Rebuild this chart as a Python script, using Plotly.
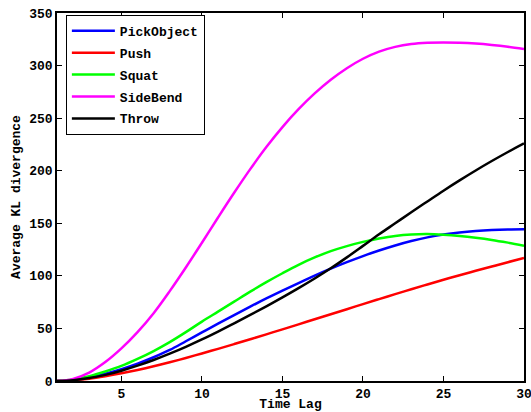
import plotly.graph_objects as go

time_lag = list(range(1, 31))

pick_object = [0, 1, 3.3, 7, 11.3, 16.5, 22.6, 29.5, 37.8, 46.2, 54.5, 62.7, 70.7, 78.5, 86,
               93.2, 100.2, 106.8, 113, 118.8, 124.1, 128.9, 133.1, 136.6, 139.3, 141.3, 142.7, 143.6, 144.1, 144.3]
push = [0, 0.8, 2.2, 4.5, 7.3, 10.5, 14, 17.8, 21.9, 26.2, 30.6, 35.1, 39.7, 44.4, 49.1,
        53.9, 58.7, 63.5, 68.3, 73.1, 77.9, 82.6, 87.2, 91.8, 96.3, 100.6, 104.8, 108.9, 113, 117]
squat = [0, 1.5, 4.5, 9, 14.3, 21, 28.5, 37, 46.5, 56.5, 66, 75.5, 85, 94, 102.5,
         110.5, 117.5, 123.5, 128.3, 132.3, 135.5, 138, 139.4, 139.8, 139.2, 138, 136.3, 134.2, 131.6, 128.7]
side_bend = [0, 2, 8, 18, 31, 46.5, 64.5, 85.5, 108, 131.5, 155.5, 179, 201.5, 222.5, 241.5,
             258.5, 273.5, 286.5, 297.5, 306.5, 313.3, 317.8, 320.5, 321.7, 322, 321.7, 320.9, 319.6, 317.9, 315.8]
throw = [0, 0.8, 2.8, 5.8, 9.8, 14.6, 20, 26, 32.5, 39.5, 47, 54.8, 62.8, 71, 79.5,
         88.3, 97.5, 107.2, 117.6, 128.5, 139.5, 150, 160.5, 170.8, 181, 190.8, 200.2, 209.2, 217.8, 226]

series_names = ["PickObject", "Push", "Squat", "SideBend", "Throw"]
series_values = [pick_object, push, squat, side_bend, throw]
series_colors = ["#0000ff", "#ff0000", "#00ff00", "#ff00ff", "#000000"]

x_ticks = [5, 10, 15, 20, 25, 30]
y_ticks = [0, 50, 100, 150, 200, 250, 300, 350]

FONT = "Liberation Mono, Courier New, monospace"
FS = 13

fig = go.Figure()
for i, (name, vals, col) in enumerate(zip(series_names, series_values, series_colors)):
    fig.add_trace(go.Scatter(
        x=time_lag, y=vals, mode="lines", name=name,
        line=dict(color=col, width=2.5, shape="spline", smoothing=1.0),
        legendgroup=f"g{i}",
    ))

axis_common = dict(
    showline=True, linecolor="black", linewidth=1.5, mirror="ticks",
    ticks="inside", ticklen=5, tickcolor="black", tickwidth=1,
    showgrid=False, zeroline=False, automargin=False, ticklabeloverflow="allow",
    tickfont=dict(family=FONT, size=FS, color="black", weight="bold"),
)

fig.update_layout(
    width=531, height=412,
    margin=dict(l=57, r=7, t=13, b=31),
    paper_bgcolor="white", plot_bgcolor="white",
    font=dict(family=FONT, color="black"),
    showlegend=True,
    legend=dict(
        x=0.019, y=0.995, xanchor="left", yanchor="top",
        bgcolor="white", bordercolor="black", borderwidth=1,
        font=dict(family=FONT, size=FS, color="black", weight="bold"),
        itemwidth=43, tracegroupgap=2, traceorder="grouped",
    ),
    xaxis=dict(range=[1, 30], tickvals=x_ticks,
               title=dict(text="Time Lag", standoff=3,
                          font=dict(family=FONT, size=FS, color="black", weight="bold")),
               **axis_common),
    yaxis=dict(range=[0, 350], tickvals=y_ticks,
               title=dict(text="Average KL divergence", standoff=6,
                          font=dict(family=FONT, size=FS, color="black", weight="bold")),
               **axis_common),
)

fig.write_html("out.html", config={"displayModeBar": False},
               post_script="document.body.style.margin='0';")
